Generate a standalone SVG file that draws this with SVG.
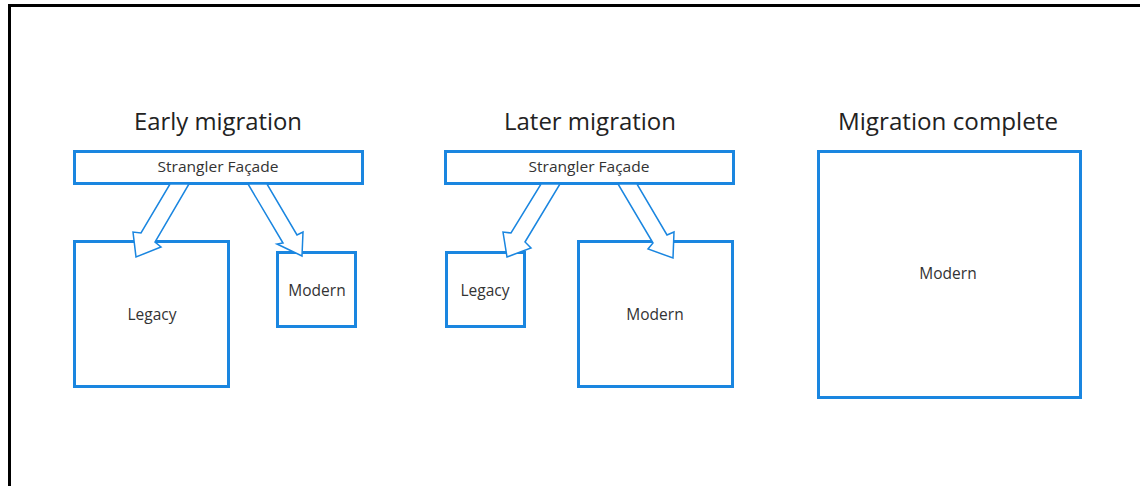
<svg xmlns="http://www.w3.org/2000/svg" width="1140" height="486" viewBox="0 0 1140 486">
<style>
.box{fill:#fff;stroke:#1a86e0;stroke-width:3}
.arrow{fill:#fff;stroke:#1a86e0;stroke-width:1.5;stroke-linejoin:miter}
.title{font-family:"Open Sans","Noto Sans",sans-serif;font-size:24px;fill:#222;text-anchor:middle}
.lbl{font-family:"Open Sans","Noto Sans",sans-serif;font-size:15.5px;fill:#333;text-anchor:middle}
.fl{font-family:"Open Sans","Noto Sans",sans-serif;font-size:15px;fill:#333;text-anchor:middle}
</style>
<rect x="0" y="0" width="1140" height="486" fill="#fff"/>
<rect x="9.5" y="5.5" width="1200" height="600" fill="none" stroke="#000" stroke-width="3"/>
<text class="title" x="218" y="130" textLength="168" lengthAdjust="spacingAndGlyphs">Early migration</text>
<text class="title" x="590" y="130" textLength="172" lengthAdjust="spacingAndGlyphs">Later migration</text>
<text class="title" x="948" y="130" textLength="220" lengthAdjust="spacingAndGlyphs">Migration complete</text>
<g id="early-legacy"><rect class="box" x="74.5" y="241.5" width="154" height="145"/><text class="lbl" x="152" y="320">Legacy</text></g>
<g id="early-modern"><rect class="box" x="277.5" y="252.5" width="78" height="74"/><text class="lbl" x="317" y="296">Modern</text></g>
<g id="early-facade"><rect class="box" x="74.5" y="151.5" width="288" height="32"/><text class="fl" x="218" y="172" textLength="121" lengthAdjust="spacingAndGlyphs">Strangler Façade</text></g>
<g id="later-legacy"><rect class="box" x="446.5" y="252.5" width="78" height="74"/><text class="lbl" x="485" y="296">Legacy</text></g>
<g id="later-modern"><rect class="box" x="578.5" y="241.5" width="154" height="145"/><text class="lbl" x="655" y="320">Modern</text></g>
<g id="later-facade"><rect class="box" x="445.5" y="151.5" width="288" height="32"/><text class="fl" x="589" y="172" textLength="121" lengthAdjust="spacingAndGlyphs">Strangler Façade</text></g>
<g id="complete-modern"><rect class="box" x="818.5" y="151.5" width="262" height="246"/><text class="lbl" x="948" y="279">Modern</text></g>
<g id="connectors">
<polygon class="arrow" points="170,184 189,184 155,242 161,247 136,257 133,232 141,233"/>
<polygon class="arrow" points="248,184 267,184 297,235 303,232 302,256 277,244 283,243"/>
<polygon class="arrow" points="541,184 560,184 525,242 531,248 507,257 503,232 511,233"/>
<polygon class="arrow" points="618,184 637,184 667,235 674,232 673,258 648,249 653,243"/>
</g>
</svg>
